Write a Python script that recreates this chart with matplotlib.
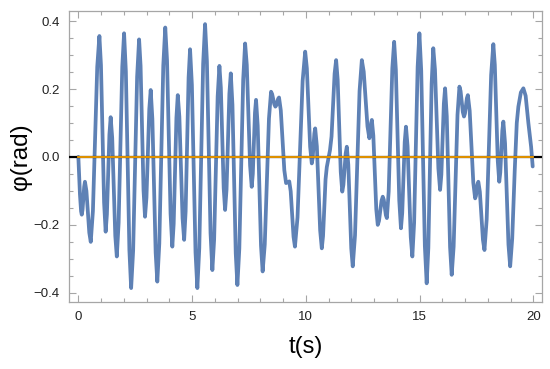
import matplotlib
matplotlib.use("Agg")
import matplotlib.pyplot as plt
from matplotlib.ticker import MultipleLocator

# ================================
# Data (turning points + points along each flank)
# ================================
t_pts = [0.00, 0.07, 0.12, 0.15, 0.185, 0.255, 0.29, 0.354, 0.481, 0.545,
         0.64, 0.83, 0.925, 0.994, 1.131, 1.20, 1.255, 1.365, 1.42, 1.488,
         1.623, 1.69, 1.77, 1.93, 2.01, 2.088, 2.243, 2.32, 2.408, 2.583,
         2.67, 2.735, 2.865, 2.93, 2.993, 3.118, 3.18, 3.253, 3.398, 3.47,
         3.558, 3.733, 3.82, 3.898, 4.053, 4.13, 4.19, 4.31, 4.37, 4.44,
         4.58, 4.65, 4.715, 4.845, 4.91, 4.99, 5.15, 5.23, 5.315, 5.485,
         5.57, 5.65, 5.81, 5.89, 5.968, 6.123, 6.20, 6.263, 6.388, 6.45,
         6.513, 6.638, 6.70, 6.773, 6.918, 6.99, 7.075, 7.245, 7.33, 7.403,
         7.548, 7.62, 7.668, 7.763, 7.81, 7.883, 8.028, 8.10, 8.193, 8.378,
         8.47, 8.518, 8.613, 8.66, 8.70, 8.78, 8.82, 8.898, 9.053, 9.13,
         9.27, 9.333, 9.458, 9.52, 9.633, 9.858, 9.97, 10.043, 10.188, 10.26,
         10.298, 10.373, 10.41, 10.483, 10.628, 10.70, 10.755, 10.865, 10.92, 11.06,
         11.128, 11.263, 11.33, 11.398, 11.533, 11.60, 11.65, 11.75, 11.80, 11.865,
         11.995, 12.06, 12.16, 12.36, 12.46, 12.543, 12.708, 12.79, 12.818, 12.873,
         12.90, 12.965, 13.095, 13.16, 13.215, 13.325, 13.38, 13.425, 13.515, 13.56,
         13.64, 13.80, 13.88, 13.955, 14.105, 14.18, 14.235, 14.345, 14.40, 14.47,
         14.61, 14.68, 14.758, 14.913, 14.99, 15.07, 15.23, 15.31, 15.383, 15.528,
         15.60, 15.675, 15.825, 15.90, 15.955, 16.065, 16.12, 16.193, 16.338, 16.41,
         16.495, 16.665, 16.75, 16.80, 16.90, 16.95, 16.993, 17.078, 17.12, 17.20,
         17.36, 17.44, 17.475, 17.545, 17.58, 17.648, 17.783, 17.85, 17.948, 18.143,
         18.24, 18.305, 18.435, 18.50, 18.545, 18.635, 18.68, 18.755, 18.905, 18.98,
         19.07, 19.18, 19.27, 19.34, 19.45, 19.56, 19.66, 19.78, 19.90, 19.97]
phi_pts = [0.000, -0.110, -0.160, -0.170, -0.155, -0.088, -0.073, -0.100, -0.223, -0.250,
           -0.159, 0.265, 0.356, 0.270, -0.134, -0.220, -0.169, 0.066, 0.117, 0.056,
           -0.232, -0.293, -0.194, 0.265, 0.364, 0.252, -0.274, -0.386, -0.276, 0.236,
           0.346, 0.268, -0.098, -0.176, -0.120, 0.141, 0.197, 0.112, -0.282, -0.367,
           -0.255, 0.269, 0.381, 0.284, -0.167, -0.264, -0.197, 0.115, 0.182, 0.118,
           -0.180, -0.244, -0.160, 0.233, 0.317, 0.212, -0.281, -0.386, -0.269, 0.274,
           0.391, 0.282, -0.224, -0.333, -0.243, 0.178, 0.268, 0.204, -0.092, -0.156,
           -0.096, 0.186, 0.246, 0.153, -0.284, -0.377, -0.270, 0.227, 0.334, 0.271,
           -0.025, -0.088, -0.050, 0.130, 0.168, 0.092, -0.261, -0.337, -0.258, 0.113,
           0.192, 0.185, 0.155, 0.148, 0.152, 0.171, 0.175, 0.137, -0.039, -0.077,
           -0.072, -0.101, -0.235, -0.264, -0.178, 0.224, 0.310, 0.261, 0.030, -0.019,
           -0.004, 0.069, 0.084, 0.031, -0.216, -0.269, -0.233, -0.066, -0.030, 0.020,
           0.060, 0.245, 0.285, 0.227, -0.044, -0.102, -0.082, 0.010, 0.030, -0.023,
           -0.269, -0.322, -0.231, 0.194, 0.285, 0.251, 0.090, 0.055, 0.063, 0.101,
           0.109, 0.063, -0.154, -0.200, -0.188, -0.129, -0.117, -0.126, -0.171, -0.180,
           -0.102, 0.261, 0.339, 0.257, -0.128, -0.210, -0.165, 0.044, 0.089, 0.032,
           -0.236, -0.293, -0.194, 0.265, 0.364, 0.254, -0.262, -0.372, -0.268, 0.216,
           0.320, 0.257, -0.034, -0.097, -0.052, 0.157, 0.202, 0.120, -0.265, -0.347,
           -0.264, 0.124, 0.207, 0.194, 0.132, 0.119, 0.128, 0.173, 0.182, 0.136,
           -0.076, -0.122, -0.115, -0.080, -0.073, -0.103, -0.244, -0.274, -0.183, 0.241,
           0.332, 0.271, -0.012, -0.073, -0.046, 0.077, 0.104, 0.040, -0.258, -0.322,
           -0.240, -0.040, 0.100, 0.148, 0.190, 0.202, 0.180, 0.100, 0.030, -0.028]

# reference line (phi = 0) over the simulated time span
ref_t = [0, 20]
ref_phi = [0, 0]

x_ticks = [0, 5, 10, 15, 20]
y_ticks = [-0.4, -0.2, 0.0, 0.2, 0.4]

# ================================
# Figure
# ================================
plt.rcParams["font.family"] = ["Liberation Sans", "DejaVu Sans"]
fig = plt.figure(figsize=(5.5, 3.69), dpi=100)
ax = fig.add_axes([0.1255, 0.1816, 0.86, 0.788])

ax.plot(t_pts, phi_pts, color="#5E81B5", lw=2.7, solid_joinstyle="round",
        solid_capstyle="round", zorder=3)
# black axis at phi=0 with the orange reference line drawn on top of it
ax.axhline(0, color="black", lw=1.6, zorder=4)
ax.plot(ref_t, ref_phi, color="#F5A000", lw=1.3, zorder=5)

ax.set_xlim(-0.41, 20.38)
ax.set_ylim(-0.427, 0.429)
ax.set_xticks(x_ticks)
ax.set_yticks(y_ticks)
ax.set_yticklabels([f"{v:.1f}".replace("-", "\u2212") for v in y_ticks])
ax.xaxis.set_minor_locator(MultipleLocator(1))
ax.yaxis.set_minor_locator(MultipleLocator(0.05))

frame_col = "#A6A6A6"
for s in ax.spines.values():
    s.set_color(frame_col)
    s.set_linewidth(0.9)
ax.tick_params(which="both", direction="in", top=True, right=True, color=frame_col,
               labelsize=9.5, labelcolor="#222222", width=0.8)
ax.tick_params(which="major", length=5)
ax.tick_params(which="minor", length=3)
ax.tick_params(axis="y", pad=6.5)
ax.tick_params(axis="x", pad=6.5)

ax.set_xlabel("t(s)", fontsize=17, labelpad=9)
ax.set_ylabel("\u03c6(rad)", fontsize=17.5, labelpad=1)

fig.savefig("out.png", dpi=100)
